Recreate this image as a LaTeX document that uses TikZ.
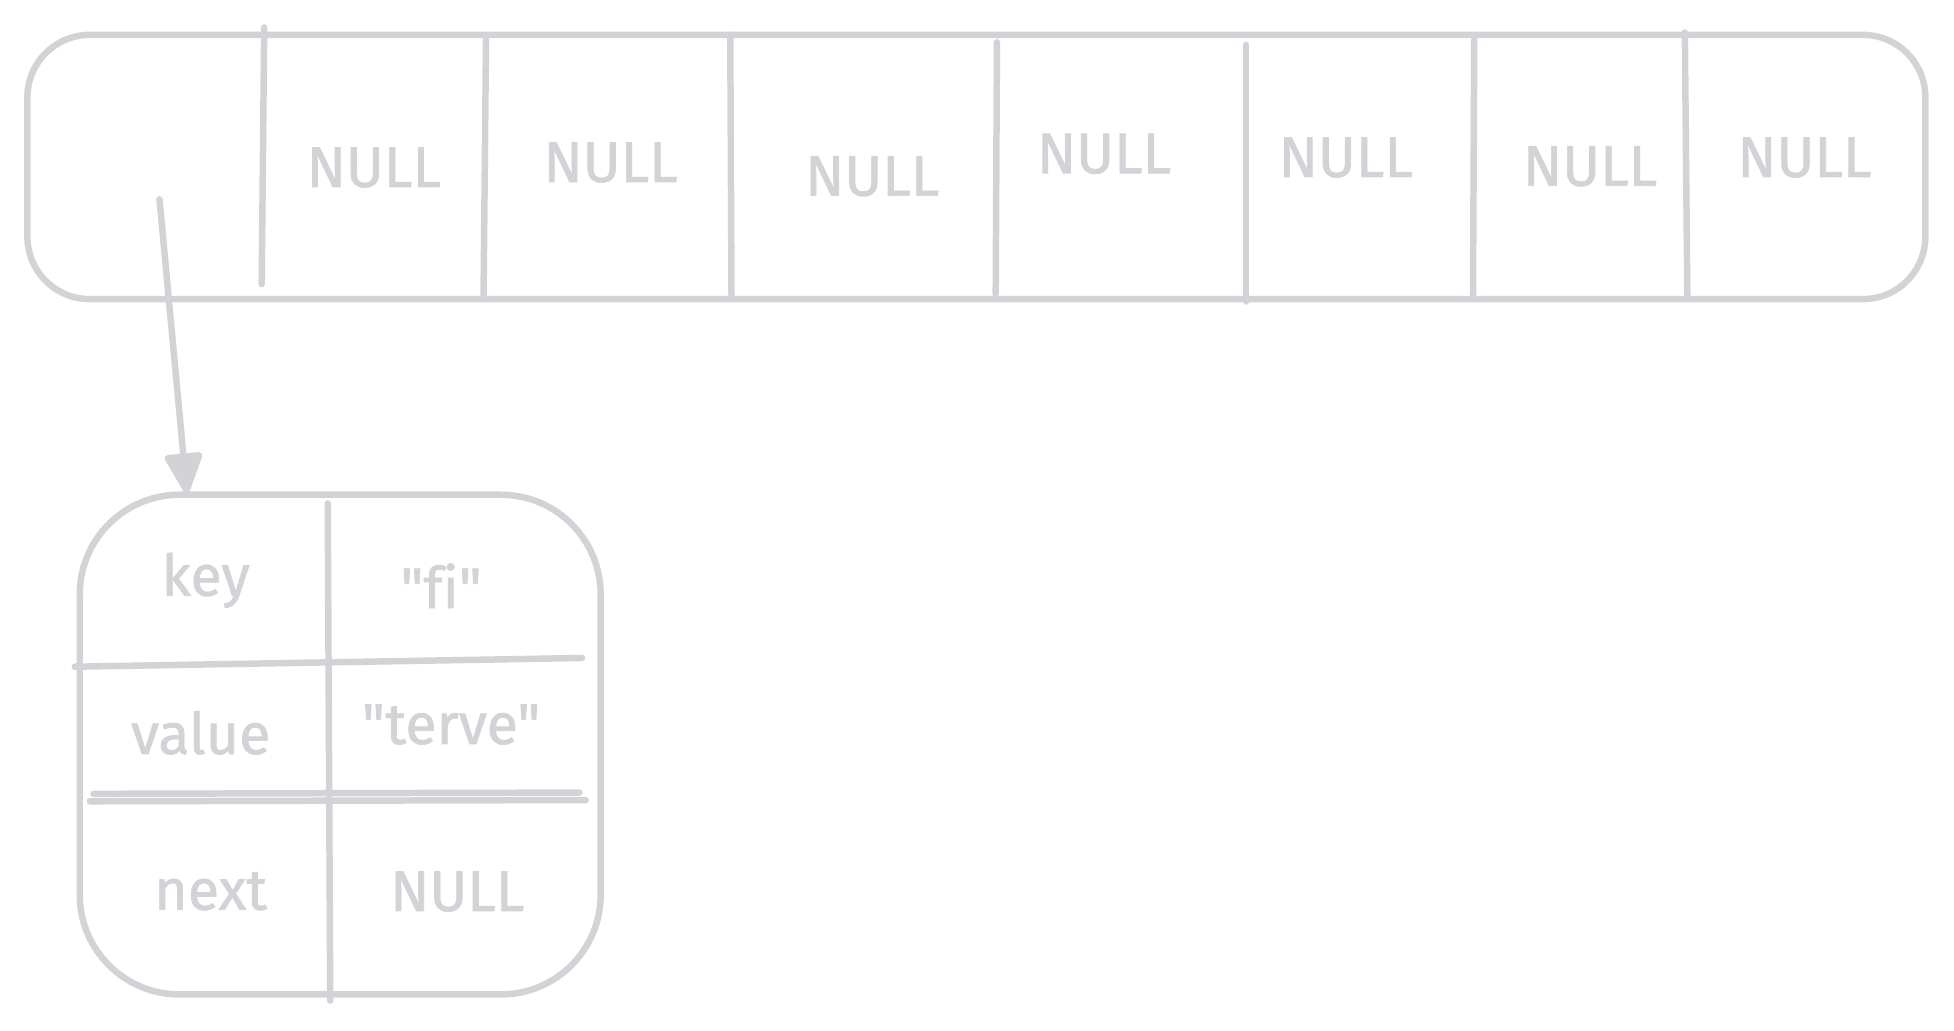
\documentclass[tikz,border=0pt]{standalone}
\usepackage{fontspec}
\newfontfamily\hand{Fira Sans}[Ligatures={NoCommon},FakeBold=1.2]
\usetikzlibrary{arrows.meta}
\definecolor{sk}{RGB}{211,210,214}
\begin{document}
\begin{tikzpicture}[x=1pt,y=-1pt,
  sketch/.style={draw=sk,line width=5.2pt,line cap=round,line join=round},
  lbl/.style={text=sk,anchor=base,inner sep=0pt,font=\hand\fontsize{46}{54}\selectfont}]
\useasboundingbox (0,0) rectangle (1568,827);
% top array
\node[sketch,rounded corners=50pt,minimum width=1523pt,minimum height=212pt,inner sep=0pt] (arr) at (783.5,134) {};
\draw[sketch] (212,22) -- (210,228);
\draw[sketch] (390,32) -- (388,240);
\draw[sketch] (586,28) -- (587,238);
\draw[sketch] (800,34) -- (799,236);
\draw[sketch] (1000,36) -- (1000,242);
\draw[sketch] (1183,32) -- (1182,240);
\draw[sketch] (1352,26) -- (1354,238);
\node[lbl] (n1) at (300,150) {NULL};
\node[lbl] (n2) at (490,146) {NULL};
\node[lbl] (n3) at (700,157) {NULL};
\node[lbl] (n4) at (886,139) {NULL};
\node[lbl] (n5) at (1080,142) {NULL};
\node[lbl] (n6) at (1276,149) {NULL};
\node[lbl] (n7) at (1448,142) {NULL};
% entry box
\node[sketch,rounded corners=80pt,minimum width=418pt,minimum height=401pt,inner sep=0pt] (entry) at (273,597.5) {};
\draw[sketch] (263,404) -- (265,803);
\draw[sketch] (60,535) -- (467,528);
\draw[sketch] (75,637) -- (465,636);
\draw[sketch] (72,643) -- (470,642);
\node[lbl] (k) at (165,478) {key};
\node[lbl] (kv) at (354,488) {"fi"};
\node[lbl] (v) at (161,605) {value};
\node[lbl] (vv) at (362,597) {"terve"};
\node[lbl] (nx) at (169,730) {next};
\node[lbl] (nv) at (367,731) {NULL};
% pointer
\coordinate (src) at (128,160);
\coordinate (dst) at (150,396);
\draw[sketch,-{Triangle[length=36pt,width=32pt,round]}] (src) -- (dst);
\end{tikzpicture}
\end{document}
